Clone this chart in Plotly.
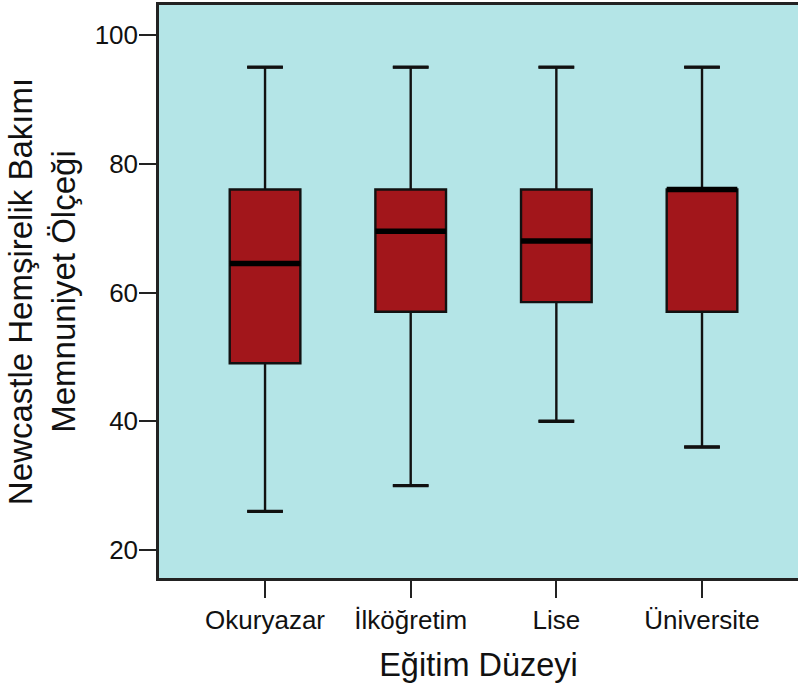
import plotly.graph_objects as go

categories = ["Okuryazar", "İlköğretim", "Lise", "Üniversite"]
upper_whisker = [95, 95, 95, 95]
q3_values = [76, 76, 76, 76]
median_values = [64.5, 69.5, 68, 76]
q1_values = [49, 57, 58.5, 57]
lower_whisker = [26, 30, 40, 36]
y_ticks = [20, 40, 60, 80, 100]

positions = list(range(len(categories)))
BOX_W = 0.485
CAP_W = 0.245

FONT = "Liberation Sans, Arial, sans-serif"
fig = go.Figure()

fig.add_trace(go.Box(
    x=positions,
    q1=q1_values, median=median_values, q3=q3_values,
    lowerfence=lower_whisker, upperfence=upper_whisker,
    width=BOX_W, whiskerwidth=CAP_W / BOX_W,
    fillcolor="#A2161B",
    line=dict(color="#111111", width=2.4),
    boxpoints=False, showlegend=False, hoverinfo="skip",
))

# thick median bars
mx, my = [], []
for p, m in zip(positions, median_values):
    mx += [p - BOX_W / 2, p + BOX_W / 2, None]
    my += [m, m, None]
fig.add_trace(go.Scatter(x=mx, y=my, mode="lines",
                         line=dict(color="#000000", width=5.5),
                         showlegend=False, hoverinfo="skip"))

# thicker whisker caps
cx, cy = [], []
for p, lo, hi in zip(positions, lower_whisker, upper_whisker):
    for v in (lo, hi):
        cx += [p - CAP_W / 2, p + CAP_W / 2, None]
        cy += [v, v, None]
fig.add_trace(go.Scatter(x=cx, y=cy, mode="lines",
                         line=dict(color="#111111", width=3.3),
                         showlegend=False, hoverinfo="skip"))

fig.update_layout(
    width=798, height=693,
    margin=dict(l=159, r=0, t=5, b=115),
    paper_bgcolor="white",
    plot_bgcolor="#B4E5E7",
    font=dict(family=FONT, color="#111111"),
    showlegend=False,
)
fig.update_xaxes(
    range=[-0.728, 3.659],
    tickvals=positions, ticktext=categories,
    tickfont=dict(size=26, family=FONT),
    ticks="outside", ticklen=17, tickwidth=2, tickcolor="#222222",
    showline=True, linecolor="#222222", linewidth=2.5, mirror=True,
    showgrid=False, zeroline=False,
    title=dict(text="Eğitim Düzeyi", font=dict(size=32.5, family=FONT), standoff=20),
)
fig.update_yaxes(
    range=[15.65, 104.66],
    tickvals=y_ticks,
    tickfont=dict(size=26, family=FONT),
    ticks="outside", ticklen=17, tickwidth=2, tickcolor="#222222",
    ticklabelstandoff=-4,
    showline=True, linecolor="#222222", linewidth=2.5, mirror=False,
    showgrid=False, zeroline=False,
    title=dict(text="Newcastle Hemşirelik Bakımı<br>Memnuniyet Ölçeği",
               font=dict(size=33, family=FONT), standoff=10),
)

fig.write_html("out.html")
